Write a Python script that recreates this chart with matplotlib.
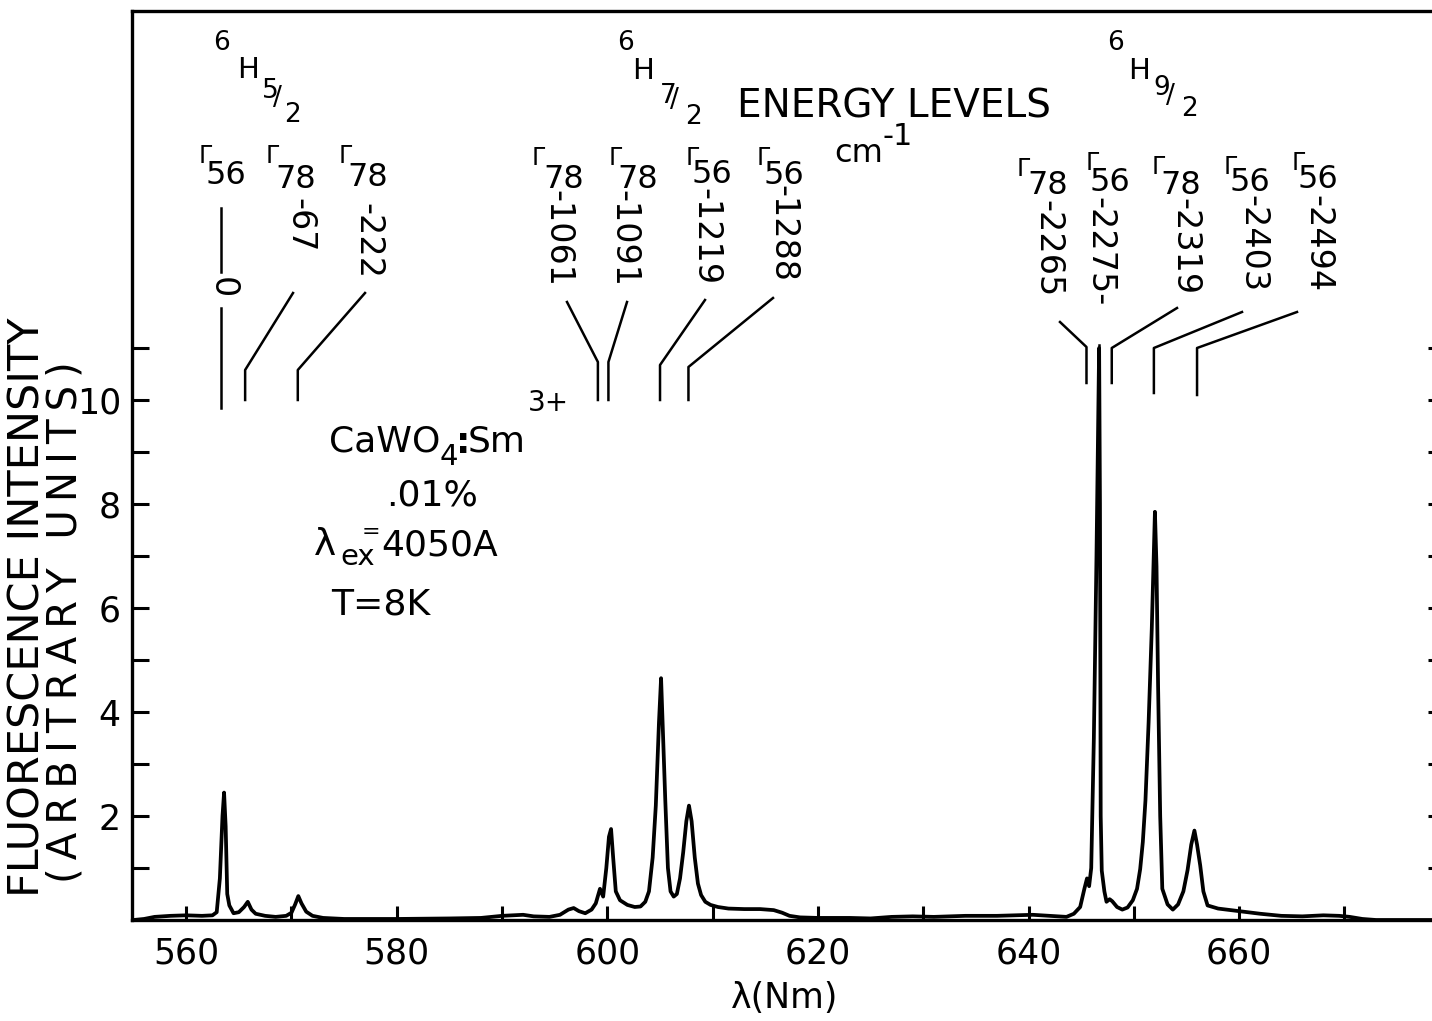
import matplotlib
matplotlib.use("Agg")
import matplotlib.pyplot as plt
import matplotlib.transforms as mtransforms

# spectrum trace (nm, arbitrary units)
wavelength = [555.0, 556.0, 557.0, 558.5, 560.0, 561.5, 562.5, 562.9, 563.2, 563.45,
              563.6, 563.75, 563.9, 564.1, 564.5, 565.0, 565.5, 565.85, 566.2, 566.6,
              567.5, 568.5, 569.5, 570.0, 570.35, 570.65, 570.95, 571.4, 572.0, 573.0,
              575.0, 580.0, 585.0, 588.0, 590.0, 592.0, 593.0, 594.5, 595.5, 596.3,
              596.8, 597.3, 597.9, 598.5, 598.9, 599.3, 599.6, 599.9, 600.15, 600.35,
              600.55, 600.8, 601.2, 601.9, 602.6, 603.15, 603.6, 603.95, 604.3, 604.6,
              604.9, 605.1, 605.3, 605.5, 605.75, 606.0, 606.3, 606.6, 606.9, 607.2,
              607.5, 607.75, 608.0, 608.3, 608.6, 608.9, 609.3, 609.8, 610.5, 611.5,
              613.0, 614.5, 615.8, 616.6, 617.3, 618.3, 620.0, 623.0, 625.0, 627.0,
              629.0, 631.0, 634.0, 637.0, 640.4, 642.0, 643.6, 644.3, 644.9, 645.3,
              645.55, 645.75, 645.95, 646.2, 646.45, 646.7, 646.78, 646.85, 646.95, 647.2,
              647.4, 647.7, 647.95, 648.4, 648.9, 649.4, 649.9, 650.3, 650.6, 650.85,
              651.1, 651.4, 651.7, 652.0, 652.15, 652.3, 652.5, 652.7, 653.2, 653.7,
              654.2, 654.7, 655.1, 655.45, 655.75, 656.0, 656.3, 656.6, 657.0, 658.0,
              660.0, 662.0, 664.0, 666.0, 668.0, 669.5, 670.5, 671.7, 673.0, 679.5]
intensity = [0.0, 0.02, 0.06, 0.08, 0.09, 0.08, 0.09, 0.15, 0.8, 2.0,
             2.45, 1.8, 0.5, 0.28, 0.13, 0.15, 0.25, 0.35, 0.2, 0.12,
             0.08, 0.06, 0.08, 0.14, 0.3, 0.46, 0.32, 0.16, 0.08, 0.04,
             0.02, 0.02, 0.03, 0.04, 0.08, 0.1, 0.07, 0.06, 0.1, 0.2,
             0.23, 0.17, 0.13, 0.2, 0.32, 0.6, 0.45, 1.0, 1.6, 1.75,
             1.2, 0.55, 0.38, 0.29, 0.25, 0.26, 0.35, 0.55, 1.2, 2.2,
             3.8, 4.65, 3.5, 2.3, 1.0, 0.55, 0.45, 0.5, 0.8, 1.3,
             1.9, 2.2, 1.9, 1.2, 0.7, 0.48, 0.35, 0.29, 0.25, 0.22,
             0.21, 0.21, 0.19, 0.14, 0.08, 0.05, 0.04, 0.04, 0.03, 0.06,
             0.07, 0.06, 0.08, 0.08, 0.1, 0.08, 0.06, 0.12, 0.25, 0.6,
             0.8, 0.65, 1.0, 3.5, 7.0, 11.0, 8.0, 2.0, 0.95, 0.55,
             0.35, 0.4, 0.36, 0.25, 0.2, 0.24, 0.38, 0.6, 0.98, 1.5,
             2.3, 3.8, 5.6, 7.85, 6.8, 4.5, 2.0, 0.6, 0.3, 0.2,
             0.3, 0.55, 0.96, 1.45, 1.72, 1.45, 1.05, 0.55, 0.28, 0.22,
             0.17, 0.12, 0.08, 0.07, 0.09, 0.08, 0.06, 0.02, 0.0, 0.0]
assert len(wavelength) == len(intensity)

x_major = [560, 580, 600, 620, 640, 660]
x_minor = [570, 590, 610, 630, 650, 670]
y_major = [2, 4, 6, 8, 10]
y_minor = [1, 3, 5, 7, 9, 11]

# crystal field levels: Gamma symmetry, energy (cm-1), wavelength the leader points at
gamma_labels = ["56", "78", "78", "78", "78", "56", "56", "78", "56", "78", "56", "56"]
energy_labels = ["0", "-67", "-222", "-1061", "-1091", "-1219", "-1288",
                 "-2265", "-2275-", "-2319", "-2403", "-2494"]
line_nm = [563.3, 565.6, 570.6, 599.1, 600.1, 605.0, 607.7,
           645.5, 646.7, 647.9, 651.9, 656.0]
multiplets = ["5", "7", "9"]

# layout (pixel positions, origin top-left)
gamma_pos = [(199, 144), (266, 144), (339, 144), (532, 146), (609, 146), (686, 146),
             (757, 146), (1017, 157), (1086, 151), (1152, 155), (1224, 155), (1292, 151)]
num_pos = [(205, 160), (275, 164), (347, 162), (543, 164), (617, 164), (692, 159),
           (763, 160), (1027, 170), (1090, 167), (1160, 170), (1230, 167), (1298, 164)]
rot_pos = [(222, 277), (300, 198), (368, 203), (558, 190), (624, 190), (706, 188),
           (783, 185), (1048, 200), (1100, 197), (1185, 198), (1253, 195), (1318, 195)]
lead_start = [(221, 308), (293, 293), (365, 293), (567, 302), (627, 302), (705, 300),
              (773, 298), (1060, 322), (1099, 345), (1177, 308), (1242, 312), (1297, 312)]
lead_bend = [308, 370, 370, 362, 362, 365, 367, 347, 345, 348, 348, 348]
lead_bottom = [408, 400, 400, 400, 400, 400, 400, 383, 385, 383, 393, 395]
# 6, H, J, slash, 2 glyph positions for each multiplet
title_pos = [[(213, 30), (237, 56), (262, 78), (273, 85), (284, 102)],
             [(617, 30), (632, 57), (660, 83), (670, 87), (685, 104)],
             [(1107, 30), (1128, 57), (1153, 75), (1166, 83), (1181, 96)]]

plt.rcParams['font.family'] = ['DejaVu Sans']

W, H = 1432, 1021
L, R, T, B = 132, 1445, 11, 920
fig = plt.figure(figsize=(W / 100, H / 100), dpi=100)
ax = fig.add_axes([L / W, (H - B) / H, (R - L) / W, (B - T) / H])
ax.set_xlim(610 - (712.67 - L) / 10.53, 610 + (R - 712.67) / 10.53)
ax.set_ylim(0, (B - T) / 52.0)

ax.plot(wavelength, intensity, color='black', lw=2.7, solid_joinstyle='round')

for s in ax.spines.values():
    s.set_linewidth(2.4)
ax.set_xticks(x_major)
ax.set_xticks(x_minor, minor=True)
ax.set_yticks(y_major)
ax.set_yticks(y_minor, minor=True)
ax.tick_params(axis='both', which='both', direction='in', width=2.2, labelsize=25)
ax.tick_params(axis='x', which='both', length=10, pad=12, top=False)
ax.tick_params(axis='y', which='both', length=12, pad=8, left=True, right=True)

pxT = mtransforms.Affine2D().scale(1, -1).translate(0, H)


def txt(x, y, s, size, ha='left', va='top', **kw):
    fig.text(x, y, s, transform=pxT, fontsize=size, ha=ha, va=va, color='black', **kw)


# axis labels
txt(785, 998, "λ(Nm)", 25, ha='center', va='center')
txt(28, 607, "FLUORESCENCE INTENSITY", 31, ha='center', va='center', rotation=90)
txt(66, 622, "\u2009".join("(ARBITRARY UNITS)"), 29, ha='center', va='center', rotation=90)

# multiplet titles 6H(J/2)
for glyphs, j in zip(title_pos, multiplets):
    for (gx, gy), ch, sz in zip(glyphs, ["6", "H", j, "/", "2"], [19, 21, 19, 19, 19]):
        txt(gx, gy, ch, sz)

txt(737, 87, "ENERGY LEVELS", 28)
txt(834, 138, "cm", 23)
txt(883, 122, "-1", 22)

# sample info
txt(329, 424, "CaWO", 26)
txt(440, 443, "4", 21)
txt(456, 426, ":", 26, fontweight='bold')
txt(468, 424, "Sm", 26)
txt(528, 389, "3+", 20)
txt(386, 478, ".01%", 26)
txt(314, 527, "λ", 27)
txt(340, 543, "ex", 21)
txt(362, 522, "=", 16)
txt(381, 528, "4050A", 26)
txt(331, 587, "T=8K", 26)

# level labels and leader lines
for i in range(len(energy_labels)):
    gx, gy = gamma_pos[i]
    txt(gx, gy, "Γ", 17)
    nx, ny = num_pos[i]
    txt(nx, ny, gamma_labels[i], 23)
    rx, ry = rot_pos[i]
    txt(rx, ry, energy_labels[i], 24, ha='center', rotation=-90)
    bx = ax.transData.transform((line_nm[i], 0))[0]
    sx, sy = lead_start[i]
    ax.plot([sx, bx, bx], [sy, lead_bend[i], lead_bottom[i]], transform=pxT,
            color='black', lw=1.8, clip_on=False)

# line above the ground level "0"
ax.plot([221, 221], [208, 272], transform=pxT, color='black', lw=1.8, clip_on=False)

fig.savefig("out.png", dpi=100)
